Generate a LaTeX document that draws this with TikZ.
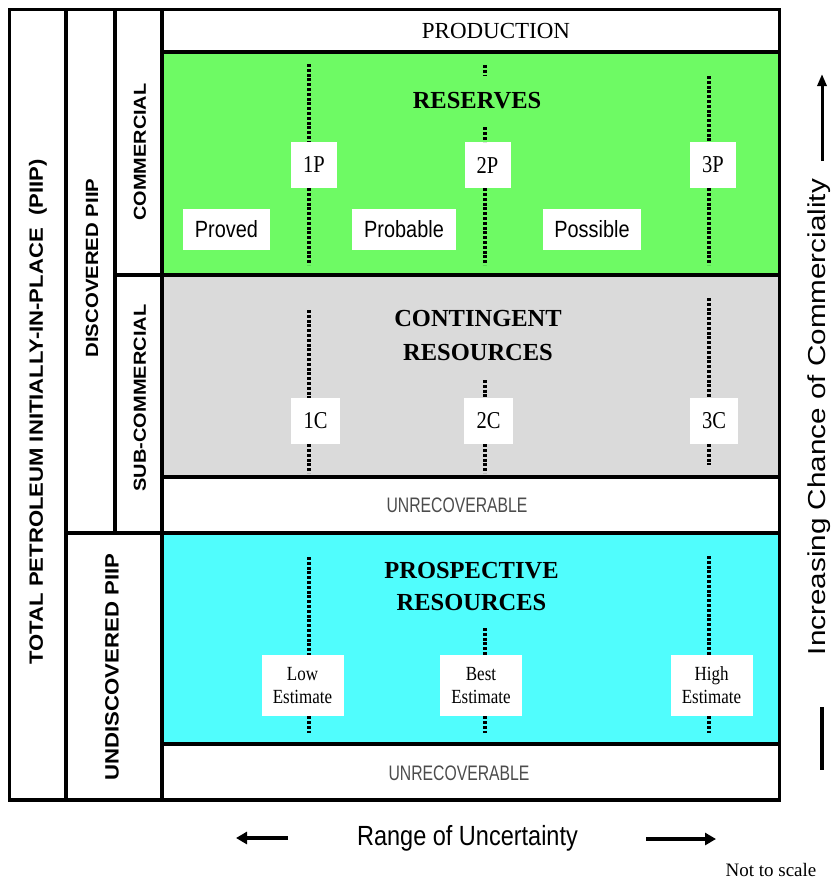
\documentclass[tikz,border=0pt]{standalone}
\usepackage{fontspec}
\setmainfont{Liberation Serif}
\setsansfont{Liberation Sans}
\usetikzlibrary{arrows.meta}
\definecolor{resgreen}{RGB}{110,250,100}
\definecolor{congray}{RGB}{218,218,218}
\definecolor{procyan}{RGB}{80,253,253}
\newcommand{\tallup}[1]{\scalebox{1}[1.18]{#1}}
\newcommand{\tallside}[1]{\scalebox{1.15}[1]{#1}}
\newcommand{\narrow}[1]{\scalebox{0.75}[1]{#1}}
\tikzset{
  frame/.style={line width=3.5pt},
  cut/.style={line width=3.2pt, dash pattern=on 3pt off 1.8pt},
  side/.style={rotate=90, inner sep=0pt, font=\sffamily\bfseries\fontsize{#1}{#1}\selectfont},
  head/.style={align=center, inner sep=0pt, font=\bfseries\fontsize{24.5}{#1}\selectfont},
  tag/.style={fill=white, inner sep=0pt, minimum width=#1, minimum height=46pt, font=\fontsize{20.5}{22}\selectfont},
  word/.style={fill=white, inner sep=0pt, minimum width=#1, minimum height=41pt, font=\sffamily\fontsize{19.9}{22}\selectfont},
  est/.style={fill=white, inner sep=0pt, minimum width=82pt, minimum height=61pt, align=center, font=\fontsize{17}{23}\selectfont},
  faint/.style={inner sep=0pt, text=black!70, font=\sffamily\fontsize{21}{22}\selectfont},
  push/.style={line width=4pt, -{Triangle[length=11pt,width=12pt]}}
}
\begin{document}
\begin{tikzpicture}[x=1pt, y=-1pt]
\useasboundingbox (0,0) rectangle (834,881);
\fill[resgreen] (162,52) rectangle (779,275);
\fill[congray] (162,275) rectangle (779,477);
\fill[procyan] (162,533) rectangle (779,744);

\node[side=19.2] (total) at (38,412) {\tallside{TOTAL PETROLEUM INITIALLY-IN-PLACE\ \ (PIIP)}};
\node[side=17.7] (found) at (92,268) {\tallside{DISCOVERED PIIP}};
\node[side=19.3] (unfound) at (112,667) {\tallside{UNDISCOVERED PIIP}};
\node[side=17.3] (comm) at (140,152) {\tallside{COMMERCIAL}};
\node[side=17.4] (subcomm) at (140,398) {\tallside{SUB-COMMERCIAL}};

\node[inner sep=0pt, font=\fontsize{23}{24}\selectfont] (prod) at (496,31) {PRODUCTION};

\node[tag=46pt] (p1) at (314,165) {\tallup{1P}};
\node[tag=46pt] (p2) at (487.5,165) {\tallup{2P}};
\node[tag=46pt] (p3) at (713,165) {\tallup{3P}};
\node[word=87pt] (proved) at (226.5,229.5) {\tallup{Proved}};
\node[word=104pt] (probable) at (404,229.5) {\tallup{Probable}};
\node[word=98pt] (possible) at (592,229.5) {\tallup{Possible}};

\node[tag=49pt] (c1) at (315.5,421) {\tallup{1C}};
\node[tag=49pt] (c2) at (488.5,421) {\tallup{2C}};
\node[tag=48pt] (c3) at (714,421) {\tallup{3C}};

\node[est] (low) at (302.5,685.5) {\tallup{Low}\\\tallup{Estimate}};
\node[est] (best) at (481,685.5) {\tallup{Best}\\\tallup{Estimate}};
\node[est] (high) at (711.5,685.5) {\tallup{High}\\\tallup{Estimate}};

\coordinate (p1top) at (309,64);
\coordinate (p1bot) at (309,265);
\coordinate (p2top) at (485,65);
\coordinate (p2bot) at (485,265);
\coordinate (p3top) at (709,76);
\coordinate (p3bot) at (709,265);
\draw[cut] (p1top) -- (p1top |- p1.north) (p1top |- p1.south) -- (p1bot);
\draw[cut] (p2top) -- (p2top |- p2.north) (p2top |- p2.south) -- (p2bot);
\draw[cut] (p3top) -- (p3top |- p3.north) (p3top |- p3.south) -- (p3bot);

\coordinate (c1top) at (309,310);
\coordinate (c1bot) at (309,473);
\coordinate (c2top) at (485,380);
\coordinate (c2bot) at (485,473);
\coordinate (c3top) at (709,298);
\coordinate (c3bot) at (709,465);
\draw[cut] (c1top) -- (c1top |- c1.north) (c1top |- c1.south) -- (c1bot);
\draw[cut] (c2top) -- (c2top |- c2.north) (c2top |- c2.south) -- (c2bot);
\draw[cut] (c3top) -- (c3top |- c3.north) (c3top |- c3.south) -- (c3bot);

\coordinate (lowtop) at (309,557);
\coordinate (lowbot) at (309,733);
\coordinate (besttop) at (485,628);
\coordinate (bestbot) at (485,733);
\coordinate (hightop) at (709,556);
\coordinate (highbot) at (709,733);
\draw[cut] (lowtop) -- (lowtop |- low.north) (lowtop |- low.south) -- (lowbot);
\draw[cut] (besttop) -- (besttop |- best.north) (besttop |- best.south) -- (bestbot);
\draw[cut] (hightop) -- (hightop |- high.north) (hightop |- high.south) -- (highbot);

\node[head=24, fill=resgreen, minimum height=51pt] (reserves) at (477,101) {RESERVES};
\node[head=34] (contingent) at (478,336) {CONTINGENT\\RESOURCES};
\node[head=32] (prospective) at (471.5,587) {PROSPECTIVE\\RESOURCES};

\node[faint] (unrec1) at (457,505) {\narrow{UNRECOVERABLE}};
\node[faint] (unrec2) at (459,773) {\narrow{UNRECOVERABLE}};

\draw[frame] (9.5,9.5) rectangle (779.5,800);
\draw[frame] (66,9.5) -- (66,800);
\draw[frame] (115,9.5) -- (115,533);
\draw[frame] (162,9.5) -- (162,800);
\draw[frame] (162,52) -- (779.5,52);
\draw[frame] (115,275) -- (779.5,275);
\draw[frame] (162,477) -- (779.5,477);
\draw[frame] (66,533) -- (779.5,533);
\draw[frame] (162,744) -- (779.5,744);

\node[rotate=90, inner sep=0pt, font=\sffamily\fontsize{24.5}{25}\selectfont] (chance) at (819,417) {\scalebox{1.21}[1]{Increasing Chance of Commerciality}};
\coordinate (upfrom) at (822,161);
\coordinate (upto) at (822,74);
\draw[line width=3pt, -{Triangle[length=12pt,width=9pt]}] (upfrom) -- (upto);
\coordinate (barfrom) at (822,707);
\coordinate (barto) at (822,770);
\draw[line width=3.5pt] (barfrom) -- (barto);

\node[inner sep=0pt, font=\sffamily\fontsize{23.5}{24}\selectfont] (range) at (467.5,838) {\tallup{Range of Uncertainty}};
\coordinate (leftfrom) at (288,838);
\coordinate (leftto) at (236,838);
\draw[push] (leftfrom) -- (leftto);
\coordinate (rightfrom) at (646,839);
\coordinate (rightto) at (716,839);
\draw[push] (rightfrom) -- (rightto);

\node[inner sep=0pt, font=\fontsize{19}{20}\selectfont] (scale) at (771,870) {Not to scale};
\end{tikzpicture}
\end{document}
